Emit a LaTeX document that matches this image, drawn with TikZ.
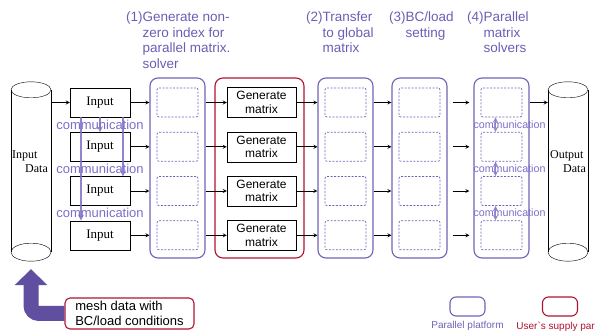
\documentclass[tikz,border=0pt]{standalone}
\usepackage{fontspec}
\setmainfont{Liberation Serif}
\setsansfont{Liberation Sans}
\usepackage{tikz}
\usetikzlibrary{calc,arrows,arrows.meta,positioning}
\definecolor{platcol}{RGB}{112,98,182}
\definecolor{titlecol}{RGB}{108,94,180}
\definecolor{commcol}{RGB}{124,110,200}
\definecolor{usercol}{RGB}{176,18,48}
\definecolor{arrowcol}{RGB}{96,78,160}

\begin{document}
\begin{tikzpicture}[x=1pt,y=-1pt,>=stealth,
  inbox/.style={draw, minimum width=60pt, minimum height=29pt, inner sep=0pt,
    font=\fontsize{13}{14}\selectfont},
  genbox/.style={draw, minimum width=69pt, minimum height=30pt, inner sep=0pt,
    align=center, font=\sffamily\fontsize{12}{13.5}\selectfont},
  platform/.style={draw=platcol, line width=1.1pt, rounded corners=8pt,
    minimum width=55pt, minimum height=180pt, inner sep=0pt},
  userpart/.style={draw=usercol, line width=1.1pt, rounded corners=8pt, inner sep=0pt},
  slot/.style={draw=platcol, line width=0.7pt, dash pattern=on 2pt off 1.5pt, rounded corners=2pt,
    minimum width=41pt, minimum height=29pt, inner sep=0pt},
  title/.style={anchor=north west, align=left, inner sep=0pt, text=titlecol,
    font=\sffamily\fontsize{13.5}{15.5}\selectfont},
  comm/.style={text=commcol, inner sep=0pt, font=\sffamily\fontsize{13}{13}\selectfont},
  commline/.style={->, draw=commcol, line width=1.6pt, opacity=.85},
  store/.style={minimum width=40pt, minimum height=162pt, inner sep=0pt},
  flow/.style={->, line width=0.8pt},
  legtext/.style={inner sep=0pt, font=\sffamily\fontsize{10}{10}\selectfont}]

\useasboundingbox (0,0) rectangle (595,331);

\node[store] (indata) at (31,171) {};
\draw (indata.north west) -- (indata.south west) (indata.north east) -- (indata.south east);
\draw (indata.north) ellipse [x radius=20pt, y radius=8pt];
\draw (indata.south) ellipse [x radius=20pt, y radius=9pt];
\node[anchor=west, align=left, inner sep=0pt, font=\fontsize{12}{14}\selectfont] (inlabel) at (12,162) {Input\\\hspace*{13pt}Data};

\node[store] (outdata) at (568,171) {};
\draw (outdata.north west) -- (outdata.south west) (outdata.north east) -- (outdata.south east);
\draw (outdata.north) ellipse [x radius=20pt, y radius=8pt];
\draw (outdata.south) ellipse [x radius=20pt, y radius=9pt];
\node[anchor=west, align=left, inner sep=0pt, font=\fontsize{12}{14}\selectfont] (outlabel) at (550,162) {Output\\\hspace*{13pt}Data};

\node[platform] (blk1) at (177.5,168) {};
\node[userpart, minimum width=89pt, minimum height=180pt] (usr) at (259.5,168) {};
\node[platform] (blk2) at (345.5,168) {};
\node[platform] (blk3) at (419.5,168) {};
\node[platform] (blk4) at (501.5,168) {};

\foreach \i/\y in {1/102.5,2/146.8,3/191,4/235.3} {
  \node[inbox] (in\i) at (100,\y) {Input};
  \node[genbox] (gen\i) at (261.5,\y) {Generate\\matrix};
  \foreach \b in {1,2,3,4}
    \node[slot] (s\b\i) at (blk\b |- in\i) {};
}

\node[title] (t1) at (126,12) {(1)Generate non-\\\phantom{(1)}zero index for\\\phantom{(1)}parallel matrix.\\\phantom{(1)}solver};
\node[title] (t2) at (306,12) {(2)Transfer\\\phantom{(2)}to global\\\phantom{(2)}matrix};
\node[title] (t3) at (389,12) {(3)BC/load\\\phantom{(3)}setting};
\node[title] (t4) at (467,12) {(4)Parallel\\\phantom{(4)}matrix\\\phantom{(4)}solvers};

\draw[flow] (indata.east |- in1) -- (in1);
\foreach \i in {1,...,4} {
  \draw[flow] (in\i) -- (in\i -| blk1.west);
  \draw[flow] (gen\i -| blk1.east) -- (gen\i);
  \draw[flow] (gen\i) -- (gen\i -| blk2.west);
  \draw[flow] (blk2.east |- in\i) -- (blk3.west |- in\i);
  \draw[flow, shorten <=5pt, shorten >=4pt] (blk3.east |- in\i) -- (blk4.west |- in\i);
}
\draw[flow] (blk4.east |- in1) -- (outdata.west |- in1);

\draw[commline] ([xshift=-19pt]in1.south) -- ([xshift=-19pt]in4.north);
\draw[commline] (in1.south) -- (in2.north);
\draw[commline] ([xshift=23pt]in1.south) -- ([xshift=23pt]in3.north);
\foreach \i/\j in {1/2,2/3,3/4} {
  \node[comm] (cl\i) at ($(in\i)!.5!(in\j)$) {communication};
  \draw[commline, <->, line width=1.4pt] ([xshift=-6pt]s4\i.south) -- ([xshift=-6pt]s4\j.north);
  \node[comm, font=\sffamily\fontsize{10.7}{10.7}\selectfont] (cr\i) at ($(s4\i)!.5!(s4\j)+(8,0)$) {communication};
}

\node[userpart, rounded corners=5pt, align=left, minimum width=129pt, minimum height=31pt,
  font=\sffamily\fontsize{13}{15}\selectfont] (mesh) at (129.5,313.5) {mesh data with\\BC/load conditions};
\draw[arrowcol, line width=15pt, rounded corners=8pt, -{Triangle[width=32pt,length=16pt]}]
  (mesh.west) -| ([yshift=-17pt]indata.south);

\node[platform, minimum width=35pt, minimum height=19pt, rounded corners=6pt] (legplat) at (467.5,306.5) {};
\node[legtext, text=platcol, below=5pt of legplat] (legplattext) {Parallel platform};
\node[userpart, minimum width=35pt, minimum height=19pt, rounded corners=6pt] (leguser) at (560,306.5) {};
\node[legtext, text=usercol, below=5pt of leguser, xshift=-3pt] (legusertext) {User\textasciigrave s supply part};
\end{tikzpicture}
\end{document}
